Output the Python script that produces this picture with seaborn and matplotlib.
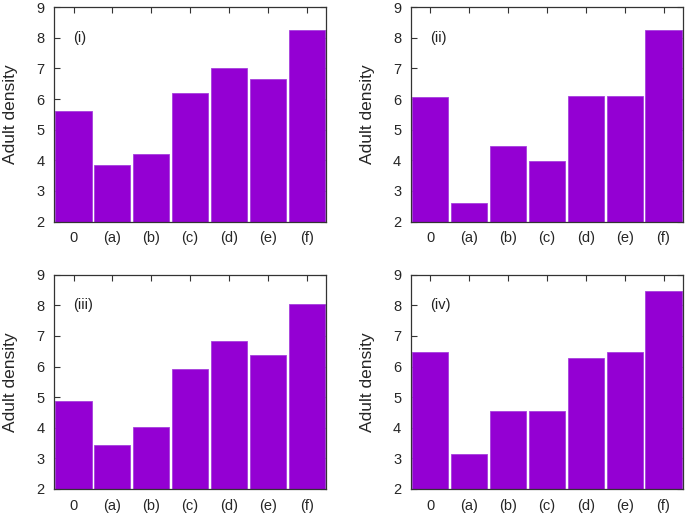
import matplotlib
matplotlib.use('Agg')
import matplotlib.pyplot as plt
import pandas as pd
import seaborn as sns

categories = ['0', '(a)', '(b)', '(c)', '(d)', '(e)', '(f)']
panel_labels = ['(i)', '(ii)', '(iii)', '(iv)']

density_i = [5.60, 3.85, 4.20, 6.21, 7.03, 6.65, 8.26]
density_ii = [6.07, 2.60, 4.46, 3.99, 6.09, 6.09, 8.26]
density_iii = [4.89, 3.43, 4.04, 5.91, 6.83, 6.38, 8.03]
density_iv = [6.46, 3.14, 4.56, 4.56, 6.28, 6.46, 8.47]

sns.set_style('ticks')
plt.rcParams['font.family'] = ['Liberation Sans', 'DejaVu Sans']

fig, axes = plt.subplots(nrows=2, ncols=2, figsize=(6.85, 5.15), dpi=100)
fig.subplots_adjust(left=0.079, right=0.997, top=0.986, bottom=0.0505,
                    wspace=0.312, hspace=0.248)

all_values = [density_i, density_ii, density_iii, density_iv]
for ax, vals, lab in zip(axes.flat, all_values, panel_labels):
    df = pd.DataFrame({'treatment': categories, 'density': vals})
    sns.barplot(data=df, x='treatment', y='density', color='#9400d3',
                saturation=1, width=0.93, edgecolor='#a640dd', linewidth=0.6,
                ax=ax)
    ax.set_xlim(-0.5, 6.5)
    ax.set_ylim(2, 9)
    ax.set_yticks(range(2, 10))
    ax.set_xlabel('')
    ax.set_ylabel('Adult density', fontsize=12.5, labelpad=13)
    ax.tick_params(direction='in', length=4, width=0.8, labelsize=10.5,
                   top=True, right=True, color='#333333', pad=7)
    for sp in ax.spines.values():
        sp.set_visible(True)
        sp.set_linewidth(0.9)
        sp.set_color('#333333')
    ax.text(0.0, 8.0, lab, fontsize=10.5, ha='left', va='center', color='#222222')

fig.savefig('out.png', dpi=100)
